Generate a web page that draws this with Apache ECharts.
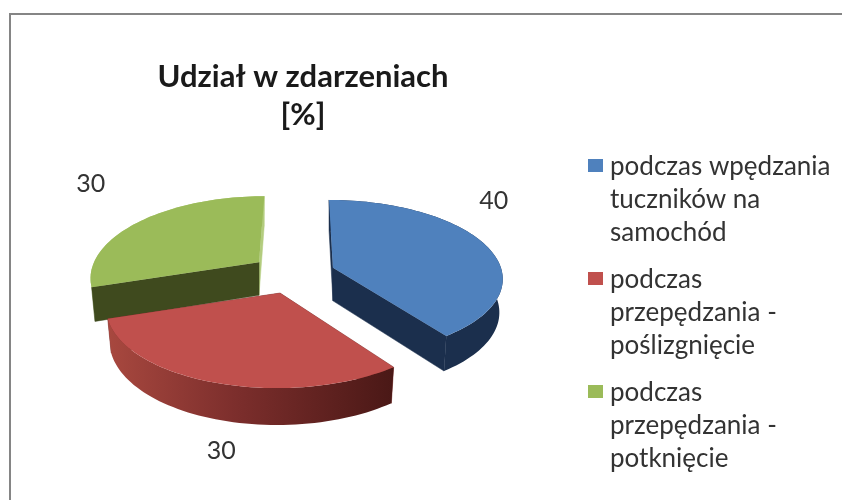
<!DOCTYPE html>
<html>
<head>
<meta charset="utf-8">
<title>Udział w zdarzeniach</title>
<script src="https://cdn.jsdelivr.net/npm/echarts@6/dist/echarts.min.js"></script>
<style>
html, body { margin: 0; padding: 0; background: #fff; }
#main { width: 842px; height: 500px; filter: blur(0.7px); }
</style>
</head>
<body>
<div id="main"></div>
<script>
var categories = ['podczas wpędzania\ntuczników na\nsamochód', 'podczas\nprzepędzania -\npoślizgnięcie', 'podczas\nprzepędzania -\npotknięcie'];
var values = [40, 30, 30];
var colors = ['#4f81bd', '#c0504d', '#9bbb59'];
var wallColors = ['#1b2f4d', '#7a2f2c', '#3f4a1e'];
var endFaceColors = ['#1b2f4d', '#7a2f2c', '#b3cc7e'];
var rimColors = ['#1b2f4d', '#7a2f2c', '#b3cc7e'];
var zOrder = [2, 3, 1];
var labelOffsets = [[8, -44], [7, 68], [-50, -37]];

// 3D pie: perspective projection of a tilted disc
var cx = 293, cy = 274;      // pie centre
var explodeX = 42, explodeY = 20;
var radiusX = [168, 171, 165];   // disc radii, fitted per slice
var radiusY = [76, 79.3, 77];
var persp = [0.12, 0.166, 0.166]; // perspective strength
var vx = 296;                // vanishing x
var depth = 33;              // wall height

var total = values.reduce(function (a, b) { return a + b; }, 0);
var starts = [], acc = 0;
values.forEach(function (v) {
    starts.push(acc / total * 2 * Math.PI);
    acc += v;
});

function project(i, a, r, lower) {
    var mid = starts[i] + values[i] / total * Math.PI;
    var x0 = cx + explodeX * Math.sin(mid);
    var y0 = cy - explodeY * Math.cos(mid);
    var k = 1 / (1 + persp[i] * r * Math.cos(a));
    var x = vx + (x0 - vx + radiusX[i] * r * Math.sin(a)) * k;
    var y = y0 - radiusY[i] * r * Math.cos(a) * k;
    if (lower) {
        x = x0 + (x - x0) * 0.98;
        y += depth * (1 + (k - 1) * 0.6);
    }
    return [x, y];
}

function arcPoints(i, lower) {
    var a0 = starts[i], a1 = a0 + values[i] / total * 2 * Math.PI;
    var n = Math.ceil(values[i] * 2), pts = [];
    for (var s = 0; s <= n; s++) {
        pts.push(project(i, a0 + (a1 - a0) * s / n, 1, lower));
    }
    return pts;
}

function renderSlice(params, api) {
    var i = params.seriesIndex;
    var a0 = starts[i], a1 = a0 + values[i] / total * 2 * Math.PI;
    var rimFill = rimColors[i];
    if (i === 1) {
        rimFill = new echarts.graphic.LinearGradient(0, 0, 1, 0, [
            { offset: 0, color: '#a8483f' },
            { offset: 0.45, color: '#7c2e2c' },
            { offset: 1, color: '#4a1816' }
        ]);
    }
    var face = function (a, color) {
        return {
            type: 'polygon',
            shape: { points: [project(i, a, 0, false), project(i, a, 1, false), project(i, a, 1, true), project(i, a, 0, true)] },
            style: { fill: color, stroke: color, lineWidth: 0.5 }
        };
    };
    var top = arcPoints(i, false);
    var bottom = arcPoints(i, true);
    var mid = a0 + (a1 - a0) / 2;
    var anchor = project(i, mid, 1, false);
    var rim = { type: 'polygon', shape: { points: top.concat(bottom.slice().reverse()) }, style: { fill: rimFill } };
    // green shows its cut face in front of the rim, the others the rim in front
    var sides = i === 2
        ? [rim, face(a1, endFaceColors[i]), face(a0, wallColors[i])]
        : [face(a0, wallColors[i]), face(a1, endFaceColors[i]), rim];
    return {
        type: 'group',
        children: sides.concat([
            { type: 'polygon', shape: { points: [project(i, a0, 0, false)].concat(top) }, style: { fill: colors[i] } },
            {
                type: 'text',
                x: anchor[0] + labelOffsets[i][0],
                y: anchor[1] + labelOffsets[i][1],
                style: {
                    text: String(api.value(0)),
                    fill: '#333',
                    font: '25px Lato',
                    align: 'center',
                    verticalAlign: 'middle'
                }
            }
        ])
    };
}

// icon is a square at the first text line, the rest of the path only stretches its box to the block height
var legendIcon = 'path://M0 9H15V22H0Z M0 0H0V0Z M15 99H15V99Z';

var myChart = echarts.init(document.getElementById('main'));
var option = {
    animation: false,
    backgroundColor: '#fff',
    title: {
        text: 'Udział w zdarzeniach\n[%]',
        left: 298,
        top: 53,
        textAlign: 'center',
        textStyle: { fontFamily: 'Lato', fontWeight: 'bold', fontSize: 31, lineHeight: 38, color: '#1a1a1a' }
    },
    legend: {
        orient: 'vertical',
        left: 588,
        top: 150,
        padding: 0,
        itemWidth: 15,
        itemHeight: 99,
        itemGap: 14,
        selectedMode: false,
        data: categories.map(function (c) { return { name: c, icon: legendIcon }; }),
        textStyle: { fontFamily: 'Lato', fontSize: 26, lineHeight: 33, color: '#333', padding: [0, 0, 0, 2] }
    },
    graphic: [{
        type: 'polyline',
        silent: true,
        shape: { points: [[842, 14], [10, 14], [10, 500]] },
        style: { stroke: '#858585', lineWidth: 2, fill: null }
    }],
    series: categories.map(function (c, i) {
        return {
            type: 'custom',
            name: c,
            coordinateSystem: 'none',
            z: zOrder[i],
            silent: true,
            itemStyle: { color: colors[i] },
            renderItem: renderSlice,
            data: [values[i]]
        };
    })
};
myChart.setOption(option);
</script>
</body>
</html>
